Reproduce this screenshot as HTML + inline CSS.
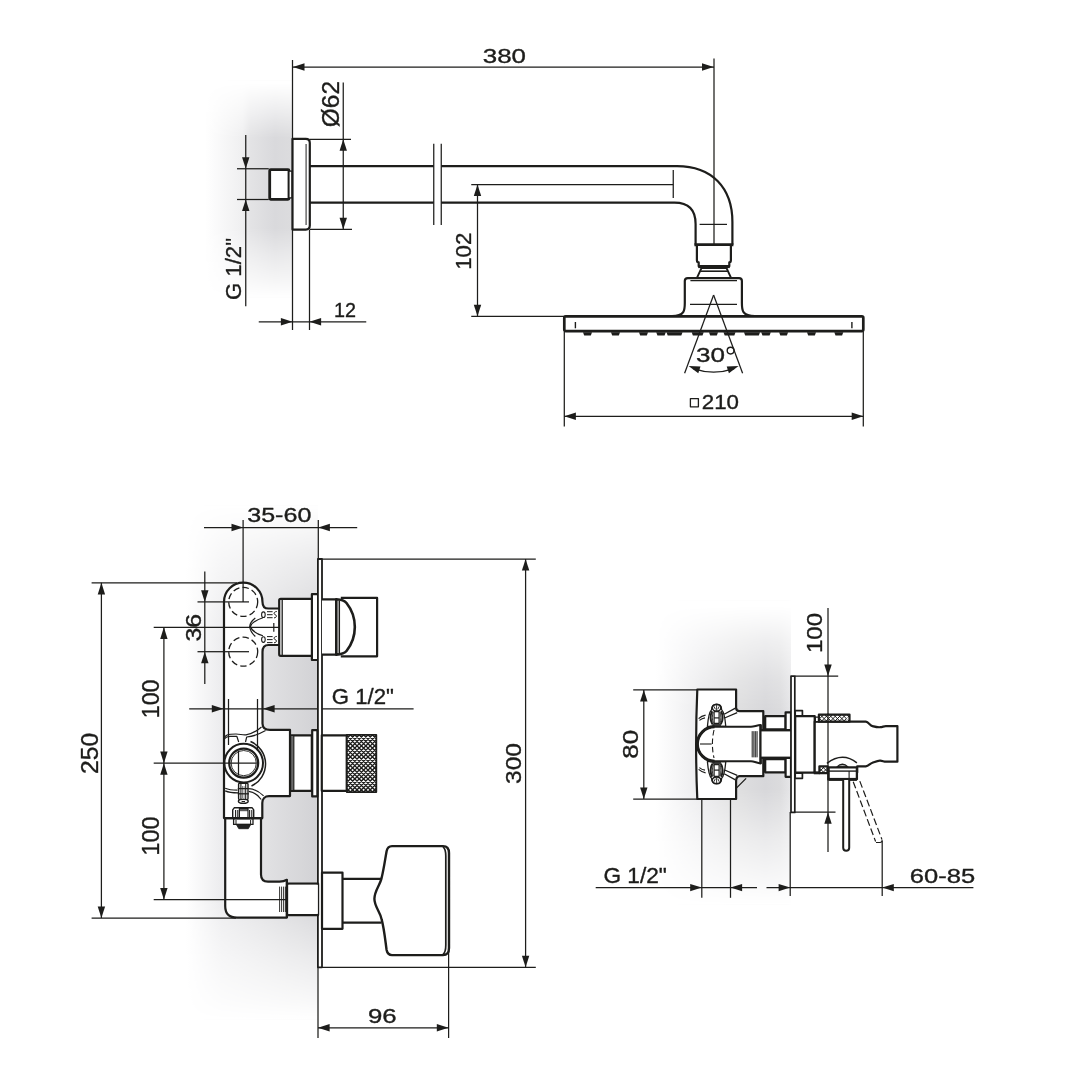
<!DOCTYPE html>
<html><head><meta charset="utf-8"><title>Technical drawing</title>
<style>
html,body{margin:0;padding:0;background:#fff;}
body{width:1080px;height:1080px;overflow:hidden;}
svg{display:block;will-change:transform;}
svg text{font-family:"Liberation Sans",sans-serif;fill:#1d1d1b;stroke:#1d1d1b;stroke-width:0.35px;stroke-linejoin:round;}
</style></head><body>
<svg width="1080" height="1080" viewBox="0 0 1080 1080" fill="none" stroke="#1d1d1b" stroke-linecap="butt" stroke-linejoin="round">
<rect x="0" y="0" width="1080" height="1080" fill="#fff" stroke="none"/>
<defs>
<linearGradient id="gA" x1="0" x2="1" y1="0" y2="0">
 <stop offset="0" stop-color="#fff"/><stop offset="0.43" stop-color="#efeff0"/><stop offset="0.52" stop-color="#e3e3e5"/><stop offset="0.8" stop-color="#d9d9dc"/><stop offset="1" stop-color="#dcdcde"/>
</linearGradient>
<linearGradient id="mAv" x1="0" x2="0" y1="0" y2="1">
 <stop offset="0.014" stop-color="#000"/><stop offset="0.147" stop-color="#808080"/><stop offset="0.266" stop-color="#fff"/><stop offset="0.68" stop-color="#fff"/><stop offset="0.8" stop-color="#999"/><stop offset="0.917" stop-color="#444"/><stop offset="1" stop-color="#000"/>
</linearGradient>
<mask id="mA" maskUnits="userSpaceOnUse" x="190" y="70" width="110" height="240"><rect x="190" y="80" width="110" height="218" fill="url(#mAv)"/></mask>

<linearGradient id="gB" x1="0" x2="1" y1="0" y2="0">
 <stop offset="0" stop-color="#fff"/><stop offset="0.27" stop-color="#ececee"/><stop offset="0.6" stop-color="#e1e1e3"/><stop offset="1" stop-color="#d2d2d5"/>
</linearGradient>
<linearGradient id="mBv" x1="0" x2="0" y1="0" y2="1">
 <stop offset="0" stop-color="#000"/><stop offset="0.107" stop-color="#737373"/><stop offset="0.223" stop-color="#d9d9d9"/><stop offset="0.30" stop-color="#fff"/><stop offset="0.767" stop-color="#fff"/><stop offset="0.816" stop-color="#bbb"/><stop offset="0.883" stop-color="#737373"/><stop offset="0.961" stop-color="#2b2b2b"/><stop offset="1" stop-color="#000"/>
</linearGradient>
<mask id="mB" maskUnits="userSpaceOnUse" x="180" y="500" width="140" height="530"><rect x="180" y="505" width="140" height="515" fill="url(#mBv)"/></mask>

<linearGradient id="gC" x1="0" x2="1" y1="0" y2="0">
 <stop offset="0" stop-color="#fff"/><stop offset="0.33" stop-color="#ececee"/><stop offset="0.63" stop-color="#dededf"/><stop offset="0.81" stop-color="#d7d7da"/><stop offset="0.92" stop-color="#dbdbdd"/><stop offset="1" stop-color="#e6e6e8"/>
</linearGradient>
<linearGradient id="mCv" x1="0" x2="0" y1="0" y2="1">
 <stop offset="0.02" stop-color="#000"/><stop offset="0.07" stop-color="#2b2b2b"/><stop offset="0.13" stop-color="#666"/><stop offset="0.26" stop-color="#ccc"/><stop offset="0.36" stop-color="#fff"/><stop offset="0.62" stop-color="#fff"/><stop offset="0.79" stop-color="#808080"/><stop offset="1" stop-color="#000"/>
</linearGradient>
<mask id="mC" maskUnits="userSpaceOnUse" x="640" y="590" width="160" height="330"><rect x="640" y="600" width="160" height="305" fill="url(#mCv)"/></mask>

</defs>
<rect x="205" y="80" width="87.5" height="218" fill="url(#gA)" mask="url(#mA)" stroke="none"/>
<rect x="186" y="505" width="132" height="515" fill="url(#gB)" mask="url(#mB)" stroke="none"/>
<rect x="656" y="600" width="135" height="305" fill="url(#gC)" mask="url(#mC)" stroke="none"/>
<path d="M292.5,60L292.5,330" stroke-width="1.25" />
<path d="M714,58.5L714,244" stroke-width="1.25" />
<path d="M292.5,67L714,67" stroke-width="1.25" />
<polygon points="292.9,67 304.5,63.3 304.5,70.7" fill="#1d1d1b" stroke="none"/>
<polygon points="713.6,67 702.0,63.3 702.0,70.7" fill="#1d1d1b" stroke="none"/>
<text x="482.75" y="62.5" font-size="20.46" textLength="43.25" lengthAdjust="spacingAndGlyphs">380</text>
<path d="M245.75,135L245.75,306.25" stroke-width="1.25" />
<path d="M237,168.75L268.75,168.75" stroke-width="1.25" />
<path d="M237,199.5L268.75,199.5" stroke-width="1.25" />
<polygon points="245.75,168.75 242.05,157.15 249.45,157.15" fill="#1d1d1b" stroke="none"/>
<polygon points="245.75,199.5 242.05,211.1 249.45,211.1" fill="#1d1d1b" stroke="none"/>
<text transform="translate(241,300.0) rotate(-90)" x="0" y="0" font-size="22.58" textLength="62.0" lengthAdjust="spacingAndGlyphs">G 1/2&quot;</text>
<rect x="269.7" y="169.7" width="19.3" height="29.6" rx="1" stroke-width="2.8" fill="#fff" />
<rect x="289.0" y="171.2" width="3.0" height="26.6" rx="0" stroke-width="1.2" fill="#fff" />
<path d="M292.5,138.9H305.8Q309.8,138.9 309.8,142.9V225.6Q309.8,229.6 305.8,229.6H292.5Z" stroke-width="2.2" fill="#fff" />
<path d="M306.1,143.9L306.1,225" stroke-width="1.3" stroke="#555"/>
<path d="M309.5,230L309.5,330" stroke-width="1.25" />
<path d="M343.25,82.5L343.25,229.25" stroke-width="1.25" />
<path d="M309.5,139.25L351,139.25" stroke-width="1.25" />
<path d="M309.5,229.25L352,229.25" stroke-width="1.25" />
<polygon points="343.25,139.25 339.55,150.85 346.95,150.85" fill="#1d1d1b" stroke="none"/>
<polygon points="343.25,229.25 339.55,217.65 346.95,217.65" fill="#1d1d1b" stroke="none"/>
<text transform="translate(339.3,127.25) rotate(-90)" x="0" y="0" font-size="23.28" textLength="46.25" lengthAdjust="spacingAndGlyphs">Ø62</text>
<path d="M258.75,321.75L366.25,321.75" stroke-width="1.25" />
<polygon points="292.5,321.75 280.9,318.05 280.9,325.45" fill="#1d1d1b" stroke="none"/>
<polygon points="309.5,321.75 321.1,318.05 321.1,325.45" fill="#1d1d1b" stroke="none"/>
<text x="334.0" y="317" font-size="20.46" textLength="22.0" lengthAdjust="spacingAndGlyphs">12</text>
<path d="M310,166.1H433.75M441.25,166.1H677C712,166.1 732.4,188 732.4,222V244.8" stroke-width="2.2" fill="none" />
<path d="M310,202.6H433.75M441.25,202.6H674.5Q695.6,202.6 695.6,224V244.8" stroke-width="2.2" fill="none" />
<path d="M433.75,143.75L433.75,225" stroke-width="1.25" />
<path d="M441.25,143.75L441.25,225" stroke-width="1.25" />
<path d="M477.5,184.5L477.5,316.3" stroke-width="1.25" />
<path d="M471.25,184.5L673.25,184.5" stroke-width="1.25" />
<path d="M673.25,170L673.25,198" stroke-width="1.25" />
<path d="M471.25,316.3L565,316.3" stroke-width="1.25" />
<polygon points="477.5,184.5 473.8,196.1 481.2,196.1" fill="#1d1d1b" stroke="none"/>
<polygon points="477.5,316.3 473.8,304.7 481.2,304.7" fill="#1d1d1b" stroke="none"/>
<text transform="translate(470.5,269.75) rotate(-90)" x="0" y="0" font-size="21.87" textLength="37.0" lengthAdjust="spacingAndGlyphs">102</text>
<path d="M699.6,224.4L727,224.4" stroke-width="1.25" />
<path d="M694.4,244.8L733.4,244.8" stroke-width="3" />
<path d="M696.9,246V260Q696.9,262.4 698.7,262.4V266.2H729.3V262.4Q730.9,262.4 730.9,260V246" stroke-width="2.2" fill="#fff" />
<path d="M698.2,266.7L729.8,266.7" stroke-width="2.8" />
<path d="M701.5,268L696.9,278H731.1L726.5,268Z" stroke-width="1.8" fill="#fff" />
<path d="M700.2,271.2L727.8,271.2" stroke-width="1.6" />
<path d="M672,316C684.8,316 684.8,310 684.8,303V281Q684.8,278.1 687.8,278.1H739Q741.9,278.1 741.9,281V303C741.9,310 741.9,316 755,316" stroke-width="2.2" fill="#fff" />
<path d="M690.4,280.6L737,280.6" stroke-width="1.3" />
<path d="M690,304.4L737,304.4" stroke-width="1.2" />
<rect x="564.3" y="316.3" width="299.0" height="14.8" rx="1.5" stroke-width="2.7" fill="#fff" />
<path d="M575.4,322L575.4,328.3" stroke-width="1.4" />
<path d="M851.9,322L851.9,328.3" stroke-width="1.4" />
<path d="M583.0,332.3H592.0L590.8,335.4H584.2Z" fill="#1d1d1b" stroke="none"/>
<path d="M611.0,332.3H620.0L618.8,335.4H612.2Z" fill="#1d1d1b" stroke="none"/>
<path d="M639.0,332.3H648.0L646.8,335.4H640.2Z" fill="#1d1d1b" stroke="none"/>
<path d="M656.25,332.3H665.75L664.55,335.4H657.45Z" fill="#1d1d1b" stroke="none"/>
<path d="M666.5,332.3H682.5L681.3,335.4H667.7Z" fill="#1d1d1b" stroke="none"/>
<path d="M691.7,332.3H703.7L702.5,335.4H692.9000000000001Z" fill="#1d1d1b" stroke="none"/>
<path d="M709.0,332.3H718.0L716.8,335.4H710.2Z" fill="#1d1d1b" stroke="none"/>
<path d="M723.5,332.3H735.5L734.3,335.4H724.7Z" fill="#1d1d1b" stroke="none"/>
<path d="M744.0,332.3H760.0L758.8,335.4H745.2Z" fill="#1d1d1b" stroke="none"/>
<path d="M761.25,332.3H770.75L769.55,335.4H762.45Z" fill="#1d1d1b" stroke="none"/>
<path d="M779.1,332.3H788.1L786.9,335.4H780.3000000000001Z" fill="#1d1d1b" stroke="none"/>
<path d="M807.0,332.3H816.0L814.8,335.4H808.2Z" fill="#1d1d1b" stroke="none"/>
<path d="M834.3,332.3H843.3L842.0999999999999,335.4H835.5Z" fill="#1d1d1b" stroke="none"/>
<path d="M713.6,295L684.6,373.3" stroke-width="1.25" />
<path d="M713.6,295L742.6,373.3" stroke-width="1.25" />
<path d="M693,368.6Q713.6,375.5 734.2,368.6" stroke-width="1.25" fill="none" />
<polygon points="688.6,366 700.5,366.5 698.3,373.2" fill="#1d1d1b" stroke="none"/>
<polygon points="738.6,366 726.7,366.5 728.9,373.2" fill="#1d1d1b" stroke="none"/>
<text x="696.0" y="361.7" font-size="20.74" textLength="29.0" lengthAdjust="spacingAndGlyphs">30</text>
<circle cx="730.6" cy="350.6" r="3.4" stroke-width="1.4" fill="none" />
<path d="M564.3,332L564.3,426.5" stroke-width="1.25" />
<path d="M863.3,332L863.3,426.5" stroke-width="1.25" />
<path d="M564.3,416.3L863.3,416.3" stroke-width="1.25" />
<polygon points="564.3,416.3 575.9,412.6 575.9,420.0" fill="#1d1d1b" stroke="none"/>
<polygon points="863.3,416.3 851.7,412.6 851.7,420.0" fill="#1d1d1b" stroke="none"/>
<rect x="690.4" y="398.6" width="8.0" height="8.2" rx="0" stroke-width="1.3" fill="none" />
<text x="701.8" y="408.6" font-size="19.75" textLength="37.2" lengthAdjust="spacingAndGlyphs">210</text>
<path d="M204,527.5L357.2,527.5" stroke-width="1.25" />
<polygon points="243.1,527.5 231.5,523.8 231.5,531.2" fill="#1d1d1b" stroke="none"/>
<polygon points="318.3,527.5 329.9,523.8 329.9,531.2" fill="#1d1d1b" stroke="none"/>
<path d="M243.1,520L243.1,601.9" stroke-width="1.25" />
<path d="M318.3,520L318.3,559" stroke-width="1.25" />
<text x="247.2" y="522.4" font-size="20.32" textLength="64.2" lengthAdjust="spacingAndGlyphs">35-60</text>
<path d="M318,559L535.8,559" stroke-width="1.25" />
<path d="M318,967.3L535.8,967.3" stroke-width="1.25" />
<path d="M525.6,559L525.6,967.3" stroke-width="1.25" />
<polygon points="525.6,559 521.9,570.6 529.3,570.6" fill="#1d1d1b" stroke="none"/>
<polygon points="525.6,967.3 521.9,955.7 529.3,955.7" fill="#1d1d1b" stroke="none"/>
<text transform="translate(520.6,784.0) rotate(-90)" x="0" y="0" font-size="22.43" textLength="41.0" lengthAdjust="spacingAndGlyphs">300</text>
<path d="M101.4,582.8L101.4,918" stroke-width="1.25" />
<path d="M91.6,582.8L237,582.8" stroke-width="1.25" />
<path d="M91.6,918L236,918" stroke-width="1.25" />
<polygon points="101.4,582.8 97.7,594.4 105.1,594.4" fill="#1d1d1b" stroke="none"/>
<polygon points="101.4,918 97.7,906.4 105.1,906.4" fill="#1d1d1b" stroke="none"/>
<text transform="translate(97.7,774.0) rotate(-90)" x="0" y="0" font-size="23.0" textLength="41.1" lengthAdjust="spacingAndGlyphs">250</text>
<path d="M163.9,627.3L163.9,899.5" stroke-width="1.25" />
<path d="M153.7,627.3L281.9,627.3" stroke-width="1.25" />
<path d="M153.7,763.2L225,763.2" stroke-width="1.25" />
<path d="M153.7,899.6L230,899.6" stroke-width="1.25" />
<polygon points="163.9,627.3 160.2,638.9 167.6,638.9" fill="#1d1d1b" stroke="none"/>
<polygon points="163.9,763.2 160.2,751.6 167.6,751.6" fill="#1d1d1b" stroke="none"/>
<polygon points="163.9,763.2 160.2,774.8 167.6,774.8" fill="#1d1d1b" stroke="none"/>
<polygon points="163.9,899.6 160.2,888.0 167.6,888.0" fill="#1d1d1b" stroke="none"/>
<text transform="translate(158.8,718.2) rotate(-90)" x="0" y="0" font-size="23.0" textLength="38.6" lengthAdjust="spacingAndGlyphs">100</text>
<text transform="translate(158.8,855.4) rotate(-90)" x="0" y="0" font-size="23.0" textLength="39.0" lengthAdjust="spacingAndGlyphs">100</text>
<path d="M204.8,571.5L204.8,684" stroke-width="1.25" />
<path d="M197.5,601.9L224,601.9" stroke-width="1.25" />
<path d="M197.5,651.7L224,651.7" stroke-width="1.25" />
<polygon points="204.8,601.9 201.1,590.3 208.5,590.3" fill="#1d1d1b" stroke="none"/>
<polygon points="204.8,651.7 201.1,663.3 208.5,663.3" fill="#1d1d1b" stroke="none"/>
<text transform="translate(200.5,641.6) rotate(-90)" x="0" y="0" font-size="21.16" textLength="27.6" lengthAdjust="spacingAndGlyphs">36</text>
<path d="M189.2,708.8L413.6,708.8" stroke-width="1.25" />
<text x="331.8" y="703.7" font-size="21.59" textLength="62.1" lengthAdjust="spacingAndGlyphs">G 1/2&quot;</text>
<path d="M318,967.3L318,1038" stroke-width="1.25" />
<path d="M448.6,948L448.6,1038" stroke-width="1.25" />
<path d="M318,1027.8L448.4,1027.8" stroke-width="1.25" />
<polygon points="318,1027.8 329.6,1024.1 329.6,1031.5" fill="#1d1d1b" stroke="none"/>
<polygon points="448.4,1027.8 436.8,1024.1 436.8,1031.5" fill="#1d1d1b" stroke="none"/>
<text x="367.9" y="1022.7" font-size="21.02" textLength="28.7" lengthAdjust="spacingAndGlyphs">96</text>
<path d="M224,818.1V601.9A19.25,19.25 0 0 1 262.5,601.9C262.5,606 264.5,608.5 268.5,608.5H280V645H268.5C264.5,645 262.5,648 262.5,652V723.5C262.5,728 265,729.9 270,729.9H290V796.1H269C265,796.1 262.3,799 262.3,803V818.1Z" stroke-width="2.2" fill="#fff" />
<path d="M225.2,818.1V906Q225.2,917.6 237,917.6H286.9V879.8C284,881.6 282,881.6 279.5,881.6H268Q261,881.6 261,874.5V818.1" stroke-width="2.2" fill="#fff" />
<path d="M224,818.1L262.4,818.1" stroke-width="2.2" />
<path d="M224,708.8L262.5,708.8" stroke-width="1.25" />
<polygon points="223.4,708.8 211.8,705.1 211.8,712.5" fill="#1d1d1b" stroke="none"/>
<polygon points="263,708.8 274.6,705.1 274.6,712.5" fill="#1d1d1b" stroke="none"/>
<path d="M224,601.9L249,601.9" stroke-width="1.25" />
<path d="M224,651.7L249,651.7" stroke-width="1.25" />
<path d="M224,627.3L281.9,627.3" stroke-width="1.25" />
<path d="M225,899.6L286,899.6" stroke-width="1.25" />
<path d="M243.1,583L243.1,601.9" stroke-width="1.25" />
<circle cx="243.2" cy="601.9" r="14.5" stroke-width="1.3" fill="none" stroke-dasharray="6.4 3.2"/>
<circle cx="243.2" cy="651.7" r="14.5" stroke-width="1.3" fill="none" stroke-dasharray="6.4 3.2"/>
<ellipse cx="263.4" cy="614.7" rx="1.8" ry="2.8" stroke-width="1.1" fill="#fff"/>
<path d="M267,611.7H272.6M267,614.7H272.6M267,617.7H272.6" stroke-width="1.0" fill="none" />
<path d="M276.8,611.5C273.5,611.7 273.5,614.2 275.2,614.7C277,615.2 277,617.7 274,617.9000000000001" stroke-width="1.0" fill="none" />
<ellipse cx="263.4" cy="639.6" rx="1.8" ry="2.8" stroke-width="1.1" fill="#fff"/>
<path d="M267,636.6H272.6M267,639.6H272.6M267,642.6H272.6" stroke-width="1.0" fill="none" />
<path d="M276.8,636.4C273.5,636.6 273.5,639.1 275.2,639.6C277,640.1 277,642.6 274,642.8000000000001" stroke-width="1.0" fill="none" />
<path d="M262.9,617.8C256,620 251.5,623 250.4,626.5C251.5,630 256,633.6 262.9,635.8" stroke-width="1.2" fill="none" />
<path d="M255.3,618.1C251.5,621 249.9,624 249.7,626.5C249.9,629 251.5,633 255.3,636.5" stroke-width="1.2" fill="none" />
<path d="M273.8,623L273.8,631.7" stroke-width="1.2" />
<rect x="279.2" y="598.8" width="33.2" height="57.0" rx="1.5" stroke-width="2.2" fill="#fff" />
<path d="M282.2,600L282.2,655" stroke-width="1.3" />
<rect x="311.9" y="594.2" width="6.2" height="65.8" rx="0" stroke-width="2.2" fill="#fff" />
<rect x="317.9" y="559" width="4.1" height="408.3" rx="0" stroke-width="1.8" fill="#fff" />
<path d="M322,599.3H336.3V654.6H322" stroke-width="2.2" fill="#fff" />
<path d="M340.8,597.9H377.1V656.3H340.8" stroke-width="2.2" fill="#fff" />
<path d="M336.3,599.2C341,599.5 344.5,600.5 346.5,603C357.6,617 357.6,637 346.5,651C344.5,653.5 341,654.3 336.3,654.6Z" stroke-width="2.6" fill="#fff" />
<path d="M339.3,600.3L339.3,653.6" stroke-width="1.5" />
<path d="M250.5,741.5A24.3,24.3 0 0 1 251.5,786" stroke-width="1.5" fill="none" />
<path d="M224,739.5C224.5,735 228,734 236,734C240,734 243,735.3 246,734.8C251,734 257,731 261.5,727" stroke-width="1.2" fill="none" />
<path d="M224.6,738.6C226,736.7 228,736.3 230,736.3H236.8L238.7,742M245.5,742L246.7,737C252,736.5 258,735 265.6,730.6" stroke-width="1.2" fill="none" />
<path d="M225.2,788.3C229,790 233,790.2 237.5,790.2M225.2,790.9C229,792.6 233,792.9 238,792.9M248.8,788.7C254,789 259,791.5 263.6,795.9M248.8,791.4C253,792 258,795 261.2,799.5" stroke-width="1.2" fill="none" />
<circle cx="243.7" cy="763.1" r="19.3" stroke-width="2.0" fill="#fff" />
<circle cx="243.7" cy="763.1" r="14.5" stroke-width="2.2" fill="none" />
<circle cx="243.7" cy="763.1" r="12.6" stroke-width="0.9" fill="none" />
<path d="M224,763.2L256.5,763.2" stroke-width="1.25" />
<path d="M228.5,699L228.5,745" stroke-width="1.25" />
<path d="M257.5,699L257.5,751" stroke-width="1.25" />
<path d="M238.5,751L238.5,775.5" stroke-width="1.25" />
<rect x="238.6" y="783.3" width="9.4" height="16.3" rx="1" stroke-width="1.4" fill="#fff" />
<path d="M240.9,784L240.9,799.4" stroke-width="1.1" />
<path d="M245.7,784L245.7,799.4" stroke-width="1.1" />
<path d="M242.5,786L242.5,798" stroke-width="0.8" stroke="#666"/>
<path d="M244.1,786L244.1,798" stroke-width="0.8" stroke="#666"/>
<path d="M237.8,788.6L248.8,788.6" stroke-width="1.3" />
<path d="M237.8,793.8L248.8,793.8" stroke-width="1.3" />
<ellipse cx="243.3" cy="801.3" rx="4.9" ry="2.1" stroke-width="1.4" fill="#fff"/>
<path d="M241.6,801.6L245,801.6" stroke-width="1.2" />
<path d="M234.2,807.8H252.2L253.7,809.8V817.8H232.7V809.8Z" stroke-width="1.4" fill="#fff" />
<rect x="239.4" y="808.3" width="8.6" height="2.9" fill="#5a5a5a" stroke="none"/>
<rect x="239.4" y="808.3" width="8.6" height="9.5" rx="0" stroke-width="1.2" fill="none" />
<path d="M235.6,810V817.8M237.8,810V817.8M249.6,810V817.8M251.8,810V817.8" stroke-width="1.1" fill="none" />
<rect x="233.6" y="818.9" width="19.4" height="5.5" rx="0" stroke-width="1.3" fill="#fff" />
<path d="M236,820V824M250.6,820V824" stroke-width="1.0" fill="none" />
<path d="M236.3,824.4H250.8L248.3,828.7H238.8Z" fill="#222" stroke="#1d1d1b" stroke-width="0.8"/>
<path d="M224,818.1L262.4,818.1" stroke-width="2.2" />
<rect x="290.9" y="735.3" width="20.9" height="55.5" rx="0" stroke-width="2.2" fill="#fff" />
<rect x="291.2" y="736" width="2.4" height="54" fill="#6a6a6a" stroke="none"/>
<path d="M293.8,735.3L293.8,790.8" stroke-width="1.2" />
<rect x="312.2" y="730.2" width="5.2" height="66.2" rx="0" stroke-width="2.2" fill="#fff" />
<rect x="321.8" y="735.3" width="25.0" height="55.5" rx="0" stroke-width="2.2" fill="#fff" />
<clipPath id="cl1"><rect x="346.8" y="734.8" width="29.5" height="57.3"/></clipPath>
<rect x="346.8" y="734.8" width="29.5" height="57.3" fill="#fff" stroke="none"/>
<path d="M346.1,734.8L288.8,792.1M350.5,734.8L293.2,792.1M354.9,734.8L297.6,792.1M359.3,734.8L302.0,792.1M363.7,734.8L306.4,792.1M368.1,734.8L310.8,792.1M372.5,734.8L315.2,792.1M376.9,734.8L319.6,792.1M381.3,734.8L324.0,792.1M385.7,734.8L328.4,792.1M390.1,734.8L332.8,792.1M394.5,734.8L337.2,792.1M398.9,734.8L341.6,792.1M403.3,734.8L346.0,792.1M407.7,734.8L350.4,792.1M412.1,734.8L354.8,792.1M416.5,734.8L359.2,792.1M420.9,734.8L363.6,792.1M425.3,734.8L368.0,792.1M429.7,734.8L372.4,792.1M434.1,734.8L376.8,792.1M288.7,734.8L346.0,792.1M293.1,734.8L350.4,792.1M297.5,734.8L354.8,792.1M301.9,734.8L359.2,792.1M306.3,734.8L363.6,792.1M310.7,734.8L368.0,792.1M315.1,734.8L372.4,792.1M319.5,734.8L376.8,792.1M323.9,734.8L381.2,792.1M328.3,734.8L385.6,792.1M332.7,734.8L390.0,792.1M337.1,734.8L394.4,792.1M341.5,734.8L398.8,792.1M345.9,734.8L403.2,792.1M350.3,734.8L407.6,792.1M354.7,734.8L412.0,792.1M359.1,734.8L416.4,792.1M363.5,734.8L420.8,792.1M367.9,734.8L425.2,792.1M372.3,734.8L429.6,792.1M376.7,734.8L434.0,792.1" stroke-width="1.35" clip-path="url(#cl1)" stroke-linecap="square"/>
<rect x="346.8" y="734.8" width="29.5" height="57.3" fill="none" stroke-width="1.8"/>
<path d="M279.6,886.6L279.6,912" stroke-width="0.9" />
<path d="M281.6,886.6L281.6,912" stroke-width="0.9" />
<path d="M283.6,886.6L283.6,912" stroke-width="0.9" />
<path d="M285.4,886.6L285.4,912" stroke-width="0.9" />
<rect x="287.2" y="883.6" width="30.8" height="31.5" rx="0" stroke-width="2.4" fill="#fff" />
<rect x="288.4" y="884.8" width="29.5" height="29.1" fill="#fff" stroke="none"/>
<path d="M286.9,879.8L286.9,917.8" stroke-width="2.2" />
<path d="M287,899.6L318,899.6" stroke-width="0.01" />
<rect x="322" y="872.6" width="20.5" height="56.2" rx="0" stroke-width="2.2" fill="#fff" />
<path d="M342.5,878.8L381.5,878.8" stroke-width="2.2" />
<path d="M342.5,922.7L381.5,922.7" stroke-width="2.2" />
<path d="M392,846.1H443Q449,846.1 449,853V948Q449,955.1 443,955.1H392Q387.6,955.1 386.6,950C385,938 384,928 381.7,919.6C380.5,912 374.4,907 374.4,898.8C374.4,890.5 380.5,884.5 381.7,877.5C384,868 385,860 386.6,851.2Q387.6,846.1 392,846.1Z" stroke-width="2.4" fill="#fff" />
<path d="M443,846.8C445.6,848.8 445.8,852 445.8,856V945C445.8,949 445.6,952.4 443,954.4" stroke-width="1.7" fill="none" />
<path d="M643.8,689.9L643.8,799.1" stroke-width="1.25" />
<path d="M633.2,689.9L697.4,689.9" stroke-width="1.25" />
<path d="M633.2,799.1L697.4,799.1" stroke-width="1.25" />
<polygon points="643.8,689.9 640.1,701.5 647.5,701.5" fill="#1d1d1b" stroke="none"/>
<polygon points="643.8,799.1 640.1,787.5 647.5,787.5" fill="#1d1d1b" stroke="none"/>
<text transform="translate(638.3,758.8) rotate(-90)" x="0" y="0" font-size="22.43" textLength="28.9" lengthAdjust="spacingAndGlyphs">80</text>
<path d="M701.8,799.1L701.8,897.8" stroke-width="1.25" />
<path d="M730.5,799.1L730.5,897.8" stroke-width="1.25" />
<path d="M595.7,887.6L757,887.6" stroke-width="1.25" />
<polygon points="701.8,887.6 690.2,883.9 690.2,891.3" fill="#1d1d1b" stroke="none"/>
<polygon points="730.5,887.6 742.1,883.9 742.1,891.3" fill="#1d1d1b" stroke="none"/>
<text x="603.4" y="882.6" font-size="21.31" textLength="63.5" lengthAdjust="spacingAndGlyphs">G 1/2&quot;</text>
<path d="M766.5,887.6L973.4,887.6" stroke-width="1.25" />
<polygon points="790.2,887.6 778.6,883.9 778.6,891.3" fill="#1d1d1b" stroke="none"/>
<polygon points="882.2,887.6 893.8,883.9 893.8,891.3" fill="#1d1d1b" stroke="none"/>
<path d="M790.2,812L790.2,896" stroke-width="1.25" />
<path d="M882.2,841L882.2,896" stroke-width="1.25" />
<text x="909.8" y="882.6" font-size="20.32" textLength="65.4" lengthAdjust="spacingAndGlyphs">60-85</text>
<path d="M828,608L828,852" stroke-width="1.25" />
<path d="M795,676.2L838.2,676.2" stroke-width="1.25" />
<path d="M795,812.2L835.5,812.2" stroke-width="1.25" />
<polygon points="828,676.2 824.3,664.6 831.7,664.6" fill="#1d1d1b" stroke="none"/>
<polygon points="828,812.2 824.3,823.8 831.7,823.8" fill="#1d1d1b" stroke="none"/>
<text transform="translate(822.2,653.0) rotate(-90)" x="0" y="0" font-size="21.87" textLength="40.1" lengthAdjust="spacingAndGlyphs">100</text>
<path d="M697.3,689.5H736.1V707.9Q736.3,711.2 739.5,711.2H763.3V776.2H739.5Q736.3,776.4 736.1,780.7V799H697.3C696,770 696,720 697.3,689.5Z" stroke-width="2.2" fill="#fff" />
<path d="M736.1,788.4L746.1,778.4" stroke-width="1.3" />
<path d="M724.2,714.3L735.4,708.1M724.6,718L737.2,712.7M724.2,773.7L735.4,779.9M724.6,770L737.2,775.3" stroke-width="1.3" fill="none" />
<path d="M698.6,718.6Q701.5,716 705.6,715.2M699.4,720.4Q702,718.2 705,717.8" stroke-width="1.2" fill="none" />
<path d="M698.6,769.4Q701.5,772 705.6,772.8M699.4,767.6Q702,769.8 705,770.2" stroke-width="1.2" fill="none" />
<g transform="translate(716.6,704.1) scale(1,1)">
<path d="M-9.2,22.4C-8.5,14 -7.5,8 -5,5.5C-5,2 -3,0 0,0C3,0 5,2 5,5.5C7.5,8 8.5,14 9.2,22.4Z" fill="#fff" stroke-width="1.3"/>
<ellipse cx="0" cy="3.7" rx="4.3" ry="3.3" stroke-width="1.5" fill="none"/>
<path d="M0,1V6.5M-2.6,2.2L-1.2,5.2M2.6,2.2L1.2,5.2" stroke-width="0.9"/>
<path d="M-4.4,7.2C-6.6,11 -6.6,16.5 -4.2,20.2M4.4,7.2C6.6,11 6.6,16.5 4.2,20.2" stroke-width="2.0"/>
<path d="M-3.4,8C-4.6,11.5 -4.6,16 -3.2,19.5M3.4,8C4.6,11.5 4.6,16 3.2,19.5" stroke-width="0.9"/>
<rect x="-2.5" y="7.6" width="5" height="11.6" stroke-width="1.2" fill="none"/>
<path d="M-2.5,13.8H2.5" stroke-width="1.2"/>
<path d="M-4.4,20.9H4.4" stroke-width="2.2" stroke="#3a3a3a"/>
</g>
<g transform="translate(716.6,783.9) scale(1,-1)">
<path d="M-9.2,22.4C-8.5,14 -7.5,8 -5,5.5C-5,2 -3,0 0,0C3,0 5,2 5,5.5C7.5,8 8.5,14 9.2,22.4Z" fill="#fff" stroke-width="1.3"/>
<ellipse cx="0" cy="3.7" rx="4.3" ry="3.3" stroke-width="1.5" fill="none"/>
<path d="M0,1V6.5M-2.6,2.2L-1.2,5.2M2.6,2.2L1.2,5.2" stroke-width="0.9"/>
<path d="M-4.4,7.2C-6.6,11 -6.6,16.5 -4.2,20.2M4.4,7.2C6.6,11 6.6,16.5 4.2,20.2" stroke-width="2.0"/>
<path d="M-3.4,8C-4.6,11.5 -4.6,16 -3.2,19.5M3.4,8C4.6,11.5 4.6,16 3.2,19.5" stroke-width="0.9"/>
<rect x="-2.5" y="7.6" width="5" height="11.6" stroke-width="1.2" fill="none"/>
<path d="M-2.5,13.8H2.5" stroke-width="1.2"/>
<path d="M-4.4,20.9H4.4" stroke-width="2.2" stroke="#3a3a3a"/>
</g>
<path d="M760.6,725.1C757,725.3 754,726.8 751,726.8H714.6A17.2,17.2 0 0 0 714.6,761.2H751C754,761.2 757,763 760.6,763.4Z" stroke-width="2.0" fill="#fff" />
<path d="M714.6,726.8A17.2,17.2 0 0 0 714.6,761.2" stroke-width="3.0" fill="none" />
<path d="M714,730Q710.8,744 714,758" stroke-width="1.1" fill="none" stroke-dasharray="5.5 3"/>
<path d="M700,744L711.7,744" stroke-width="1.1" />
<rect x="751.7" y="731.2" width="5.5" height="26.1" fill="#b9b9bb" stroke="none"/>
<path d="M752.2,731.2L752.2,757.3" stroke-width="0.8" />
<path d="M753.9,731.2L753.9,757.3" stroke-width="0.8" />
<path d="M755.6,731.2L755.6,757.3" stroke-width="0.8" />
<path d="M757.2,731.2L757.2,757.3" stroke-width="0.8" />
<path d="M760.6,724.6L760.6,763.9" stroke-width="2.4" />
<rect x="765.2" y="716.2" width="20.4" height="13.2" rx="0" stroke-width="2.2" fill="#fff" />
<rect x="765.2" y="759.2" width="20.4" height="13.1" rx="0" stroke-width="2.2" fill="#fff" />
<path d="M764.2,716.2L764.2,729.4" stroke-width="1.6" />
<path d="M764.2,759.2L764.2,772.3" stroke-width="1.6" />
<rect x="785.6" y="712.3" width="5.4" height="64.5" rx="0" stroke-width="2.2" fill="#fff" />
<rect x="761.6" y="730.4" width="29" height="27.2" fill="#fff" stroke="none"/>
<path d="M760.6,730.2L791,730.2" stroke-width="2.4" />
<path d="M760.6,757.8L791,757.8" stroke-width="2.4" />
<rect x="791.0" y="676.2" width="3.8" height="136.2" rx="0" stroke-width="1.7" fill="#fff" />
<rect x="795.2" y="710.6" width="7.2" height="5.2" rx="0" stroke-width="1.7" fill="#fff" />
<rect x="795.2" y="773.1" width="7.2" height="5.2" rx="0" stroke-width="1.7" fill="#fff" />
<rect x="795.2" y="716.1" width="19.5" height="56.5" rx="0" stroke-width="2.2" fill="#fff" />
<path d="M814.7,721.7H865.8C868.5,722 870,725.6 872.4,726.1C875.5,726.9 878,727.4 880.2,727.2C882.5,727 884,726.1 885.8,726.1H897.4V761.7H885.8C884,761.7 882.5,760.8 880.2,760.6C878,760.4 875.5,761.6 872.4,762.8C870,763.6 868.5,766.2 865.8,766.4H857.2V772.6H814.7Z" stroke-width="2.2" fill="#fff" />
<rect x="815.4" y="717.2" width="3.2" height="4.5" rx="0" stroke-width="1.2" fill="#fff" />
<clipPath id="cl2"><rect x="818.9" y="714.6" width="30.6" height="7.1"/></clipPath>
<rect x="818.9" y="714.6" width="30.6" height="7.1" fill="#fff" stroke="none"/>
<path d="M814.8,714.6L807.7,721.7M819.24,714.6L812.14,721.7M823.68,714.6L816.58,721.7M828.12,714.6L821.02,721.7M832.56,714.6L825.46,721.7M837.0,714.6L829.9,721.7M841.44,714.6L834.34,721.7M845.88,714.6L838.78,721.7M850.32,714.6L843.22,721.7M854.76,714.6L847.66,721.7M859.2,714.6L852.1,721.7M811.24,714.6L818.34,721.7M815.68,714.6L822.78,721.7M820.12,714.6L827.22,721.7M824.56,714.6L831.66,721.7M829.0,714.6L836.1,721.7M833.44,714.6L840.54,721.7M837.88,714.6L844.98,721.7M842.32,714.6L849.42,721.7M846.76,714.6L853.86,721.7M851.2,714.6L858.3,721.7" stroke-width="1.0" clip-path="url(#cl2)" stroke-linecap="square"/>
<rect x="818.9" y="714.6" width="30.6" height="7.1" fill="none" stroke-width="2.2"/>
<path d="M847.2,716L847.2,721" stroke-width="0.9" stroke="#fff"/>
<clipPath id="cl3"><rect x="819.4" y="766.3" width="8.2" height="6.9"/></clipPath>
<rect x="819.4" y="766.3" width="8.2" height="6.9" fill="#fff" stroke="none"/>
<path d="M815.9,766.3L809.0,773.2M820.34,766.3L813.44,773.2M824.78,766.3L817.88,773.2M829.22,766.3L822.32,773.2M833.66,766.3L826.76,773.2M838.1,766.3L831.2,773.2M808.7,766.3L815.6,773.2M813.14,766.3L820.04,773.2M817.58,766.3L824.48,773.2M822.02,766.3L828.92,773.2M826.46,766.3L833.36,773.2M830.9,766.3L837.8,773.2" stroke-width="1.0" clip-path="url(#cl3)" stroke-linecap="square"/>
<rect x="819.4" y="766.3" width="8.2" height="6.9" fill="none" stroke-width="2.2"/>
<path d="M813.8,773L819.7,773" stroke-width="2.6" />
<path d="M826.9,763.3Q842.4,751.5 856.9,762.8" stroke-width="1.5" fill="none" />
<path d="M836.9,766.9Q842.4,761.6 848,766.9Z" fill="#bdbdbf" stroke="#1d1d1b" stroke-width="1.2"/>
<rect x="828.6" y="767.4" width="28.3" height="11.8" rx="0" stroke-width="2.3" fill="#fff" />
<path d="M828.6,771.1L856.9,771.1" stroke-width="1.4" />
<path d="M849.1,771.1L849.1,779.2" stroke-width="1.1" />
<path d="M828.6,779.4L856.9,779.4" stroke-width="3.0" />
<path d="M828,713.5L828,780.5" stroke-width="1.25" />
<path d="M843.2,780V847.8Q843.2,850.8 846.2,850.8Q849.2,850.8 849.2,847.8V780" stroke-width="2.0" fill="#fff" />
<path d="M853.2,781.7L875.6,841.5M859.8,781.1L882,839.6" stroke-width="1.2" fill="none" stroke-dasharray="7 3"/>
<path d="M876,842.5H880Q882,842.5 882.2,840" stroke-width="1.1" fill="none" />
</svg>
</body></html>
